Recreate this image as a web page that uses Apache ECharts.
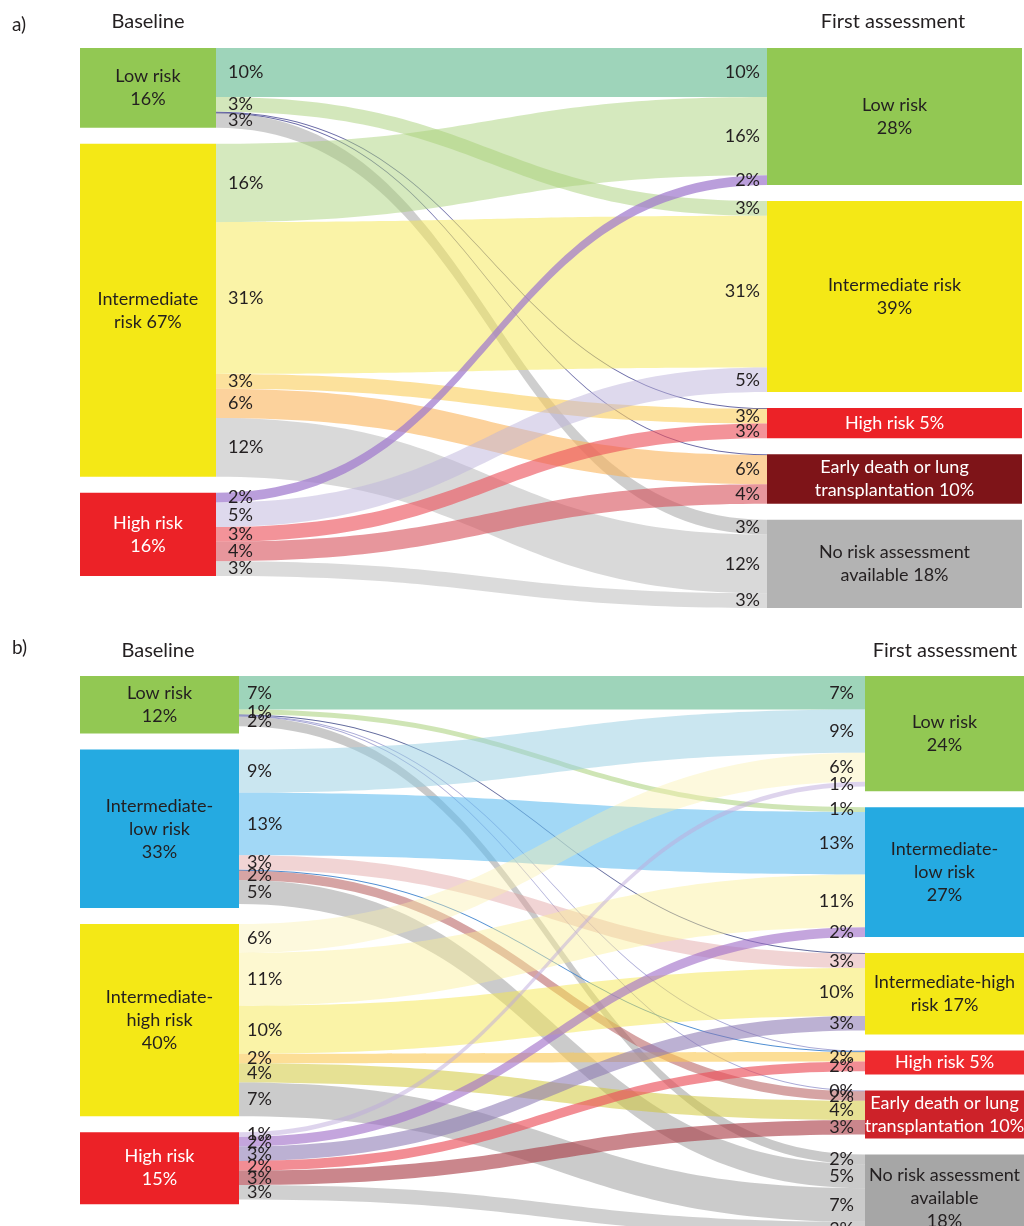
<!DOCTYPE html>
<html><head><meta charset="utf-8">
<script src="https://cdn.jsdelivr.net/npm/echarts@6/dist/echarts.min.js"></script>
<style>html,body{margin:0;padding:0;background:#fff}#c{width:1024px;height:1226px}</style>
</head><body><div id="c"></div>
<script>
// ===== Panel a) data =====
const aLeftNames = ['Low risk', 'Intermediate risk', 'High risk'];
const aLeftLabels = ['Low risk\n16%', 'Intermediate\nrisk 67%', 'High risk\n16%'];
const aLeftValues = [16, 67, 16];
const aRightNames = ['Low risk', 'Intermediate risk', 'High risk', 'Early death or lung transplantation', 'No risk assessment available'];
const aRightLabels = ['Low risk\n28%', 'Intermediate risk\n39%', 'High risk 5%', 'Early death or lung\ntransplantation 10%', 'No risk assessment\navailable 18%'];
const aRightValues = [28, 39, 5, 10, 18];
const aFlowSource = [0, 0, 0, 0, 0, 1, 1, 1, 1, 1, 2, 2, 2, 2, 2];
const aFlowTarget = [0, 1, 2, 3, 4, 0, 1, 2, 3, 4, 0, 1, 2, 3, 4];
const aFlowValues = [10, 3, 0.15, 0.15, 3, 16, 31, 3, 6, 12, 2, 5, 3, 4, 3];
const aFlowLeftLabels = ['10%', '3%', '', '', '3%', '16%', '31%', '3%', '6%', '12%', '2%', '5%', '3%', '4%', '3%'];
const aFlowRightLabels = ['10%', '3%', '', '', '3%', '16%', '31%', '3%', '6%', '12%', '2%', '5%', '3%', '4%', '3%'];

// ===== Panel b) data =====
const bLeftNames = ['Low risk', 'Intermediate-low risk', 'Intermediate-high risk', 'High risk'];
const bLeftLabels = ['Low risk\n12%', 'Intermediate-\nlow risk\n33%', 'Intermediate-\nhigh risk\n40%', 'High risk\n15%'];
const bLeftValues = [12, 33, 40, 15];
const bRightNames = ['Low risk', 'Intermediate-low risk', 'Intermediate-high risk', 'High risk', 'Early death or lung transplantation', 'No risk assessment available'];
const bRightLabels = ['Low risk\n24%', 'Intermediate-\nlow risk\n27%', 'Intermediate-high\nrisk 17%', 'High risk 5%', 'Early death or lung\ntransplantation 10%', 'No risk assessment\navailable\n18%'];
const bRightValues = [24, 27, 17, 5, 10, 18];
const bFlowSource = [0, 0, 0, 0, 0, 0, 1, 1, 1, 1, 1, 1, 2, 2, 2, 2, 2, 2, 3, 3, 3, 3, 3, 3];
const bFlowTarget = [0, 1, 2, 3, 4, 5, 0, 1, 2, 3, 4, 5, 0, 1, 2, 3, 4, 5, 0, 1, 2, 3, 4, 5];
const bFlowValues = [7, 1, 0.15, 0.15, 0.15, 2, 9, 13, 3, 0.15, 2, 5, 6, 11, 10, 2, 4, 7, 1, 2, 3, 2, 3, 3];
const bFlowLeftLabels = ['7%', '1%', '', '', '', '2%', '9%', '13%', '3%', '', '2%', '5%', '6%', '11%', '10%', '2%', '4%', '7%', '1%', '2%', '3%', '2%', '3%', '3%'];
const bFlowRightLabels = ['7%', '1%', '', '', '0%', '2%', '9%', '13%', '3%', '', '2%', '5%', '6%', '11%', '10%', '2%', '4%', '7%', '1%', '2%', '3%', '2%', '3%', '3%'];

// ===== Styles =====
const FONT = 'Lato, "Noto Sans", sans-serif';
const TXT = '#231f20';
const aLeftColors = ['#92c853', '#f4e816', '#ec2227'];
const aRightColors = ['#92c853', '#f4e816', '#ec2227', '#7e1418', '#b3b3b3'];
const aRightTextColors = [TXT, TXT, '#ffffff', '#ffffff', TXT];
const aLeftTextColors = [TXT, TXT, '#ffffff'];
const aFlowColors = [
  'rgba(120,196,160,0.72)', 'rgba(168,208,120,0.5)', 'rgba(80,80,150,0.85)', 'rgba(80,80,150,0.85)', 'rgba(165,165,165,0.55)',
  'rgba(168,208,120,0.48)', 'rgba(245,232,80,0.5)', 'rgba(250,205,90,0.6)', 'rgba(250,180,90,0.6)', 'rgba(180,180,180,0.5)',
  'rgba(160,120,205,0.72)', 'rgba(190,180,220,0.5)', 'rgba(235,80,90,0.62)', 'rgba(215,80,90,0.6)', 'rgba(190,190,190,0.55)'
];
const bLeftColors = ['#92c853', '#25aae1', '#f4e816', '#ec2227'];
const bLeftTextColors = [TXT, TXT, TXT, '#ffffff'];
const bRightColors = ['#92c853', '#25aae1', '#f4e816', '#ee2a2e', '#cd2229', '#a6a6a6'];
const bRightTextColors = [TXT, TXT, TXT, '#ffffff', '#ffffff', TXT];
const bFlowColors = [
  'rgba(120,196,160,0.72)', 'rgba(168,208,120,0.55)', 'rgba(70,80,140,0.85)', 'rgba(140,140,200,0.75)', 'rgba(140,140,200,0.75)', 'rgba(165,165,165,0.6)',
  'rgba(150,205,225,0.5)', 'rgba(100,190,240,0.6)', 'rgba(225,160,160,0.45)', 'rgba(60,130,205,0.9)', 'rgba(180,90,90,0.55)', 'rgba(160,160,160,0.55)',
  'rgba(250,240,170,0.4)', 'rgba(250,240,150,0.45)', 'rgba(245,232,80,0.5)', 'rgba(250,200,80,0.6)', 'rgba(210,200,60,0.55)', 'rgba(160,160,160,0.55)',
  'rgba(190,170,220,0.5)', 'rgba(160,110,200,0.62)', 'rgba(140,120,180,0.58)', 'rgba(235,80,90,0.65)', 'rgba(170,60,70,0.62)', 'rgba(170,170,170,0.55)'
];

function buildSeries(cfg) {
  const labelMap = {};
  const data = [];
  cfg.leftNames.forEach(function (n, i) {
    const id = 'L|' + n;
    labelMap[id] = cfg.leftLabels[i];
    const item = { name: id, value: cfg.leftValues[i], itemStyle: { color: cfg.leftColors[i] },
      label: { color: cfg.leftTextColors[i] } };
    if (cfg.leftFill) {
      item.itemStyle.color = { type: 'linear', x: 0, y: 0, x2: 1, y2: 0, colorStops: [
        { offset: 0, color: 'rgba(255,255,255,0)' }, { offset: cfg.leftFill, color: 'rgba(255,255,255,0)' },
        { offset: cfg.leftFill, color: cfg.leftColors[i] }, { offset: 1, color: cfg.leftColors[i] }] };
      item.label.position = [cfg.leftLabelPos, '50%'];
      item.label.align = 'center';
      item.label.verticalAlign = 'middle';
    }
    data.push(item);
  });
  cfg.rightNames.forEach(function (n, i) {
    const id = 'R|' + n;
    labelMap[id] = cfg.rightLabels[i];
    data.push({ name: id, value: cfg.rightValues[i], itemStyle: { color: cfg.rightColors[i] },
      label: { color: cfg.rightTextColors[i] } });
  });
  const links = cfg.src.map(function (s, k) {
    return { source: 'L|' + cfg.leftNames[s], target: 'R|' + cfg.rightNames[cfg.tgt[k]], value: cfg.vals[k],
      lineStyle: { color: cfg.colors[k], opacity: 1 } };
  });
  return {
    type: 'sankey', left: cfg.left, right: cfg.right, top: cfg.top, bottom: cfg.bottom,
    nodeWidth: cfg.nodeWidth, nodeGap: cfg.nodeGap, layoutIterations: 0, draggable: false,
    emphasis: { disabled: true },
    itemStyle: { borderWidth: 0 },
    lineStyle: { curveness: 0.5, opacity: 1 },
    label: { show: true, position: 'inside', fontFamily: FONT, fontSize: 18, lineHeight: 23,
      align: 'center', formatter: function (p) { return labelMap[p.name]; } },
    data: data, links: links
  };
}

const chart = echarts.init(document.getElementById('c'), null, { renderer: 'canvas' });
const seriesA = buildSeries({ leftNames: aLeftNames, leftLabels: aLeftLabels, leftValues: aLeftValues, leftColors: aLeftColors,
  leftTextColors: aLeftTextColors, rightNames: aRightNames, rightLabels: aRightLabels, rightValues: aRightValues,
  rightColors: aRightColors, rightTextColors: aRightTextColors, src: aFlowSource, tgt: aFlowTarget, vals: aFlowValues,
  colors: aFlowColors, left: -39, right: 2, top: 48, bottom: 618, nodeWidth: 255, nodeGap: 16,
  leftFill: 119 / 255, leftLabelPos: '73.3%' });
const seriesB = buildSeries({ leftNames: bLeftNames, leftLabels: bLeftLabels, leftValues: bLeftValues, leftColors: bLeftColors,
  leftTextColors: bLeftTextColors, rightNames: bRightNames, rightLabels: bRightLabels, rightValues: bRightValues,
  rightColors: bRightColors, rightTextColors: bRightTextColors, src: bFlowSource, tgt: bFlowTarget, vals: bFlowValues,
  colors: bFlowColors, left: 80, right: 0, top: 676, bottom: -15, nodeWidth: 159, nodeGap: 16 });

chart.setOption({ animation: false, backgroundColor: '#ffffff', series: [seriesA, seriesB] });

function txt(text, x, y, align, size) {
  return { type: 'text', x: x, y: y, z: 100, silent: true,
    style: { text: text, fill: TXT, font: size + 'px ' + FONT, align: align, verticalAlign: 'middle' } };
}

function edgeLabels(seriesIndex, leftLabels, rightLabels, leftPad, rightPad) {
  const out = [];
  try {
    const sm = chart.getModel().getSeriesByIndex(seriesIndex);
    const graph = sm.getGraph();
    const li = sm.layoutInfo;
    graph.edges.forEach(function (e) {
      const idx = e.dataIndex;
      const l = e.getLayout();
      const n1 = e.node1.getLayout(), n2 = e.node2.getLayout();
      if (leftLabels[idx]) out.push(txt(leftLabels[idx], li.x + n1.x + n1.dx + leftPad, li.y + n1.y + l.sy + l.dy / 2, 'left', 18));
      if (rightLabels[idx]) out.push(txt(rightLabels[idx], li.x + n2.x - rightPad, li.y + n2.y + l.ty + l.dy / 2, 'right', 18));
    });
  } catch (err) { console.error(err); }
  return out;
}

const graphics = [
  txt('a)', 12, 25, 'left', 19), txt('Baseline', 148, 22, 'center', 20), txt('First assessment', 893, 22, 'center', 20),
  txt('b)', 12, 648, 'left', 19), txt('Baseline', 158, 651, 'center', 20), txt('First assessment', 945, 651, 'center', 20)
].concat(edgeLabels(0, aFlowLeftLabels, aFlowRightLabels, 12, 7))
 .concat(edgeLabels(1, bFlowLeftLabels, bFlowRightLabels, 8, 11));

chart.setOption({ graphic: graphics });
</script></body></html>
